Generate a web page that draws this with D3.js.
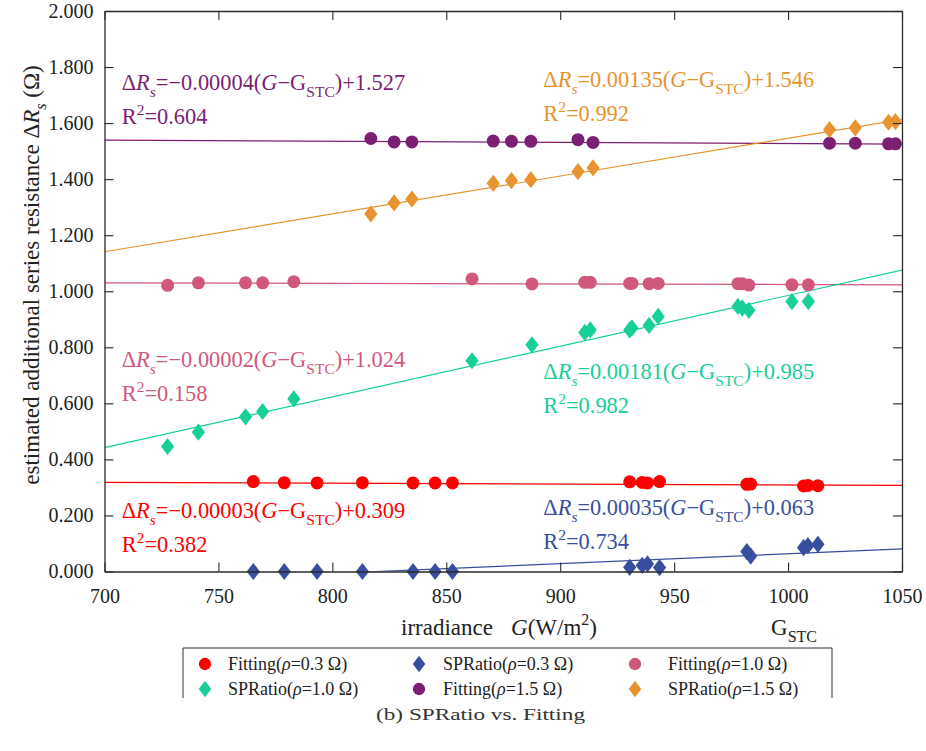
<!DOCTYPE html>
<html>
<head>
<meta charset="utf-8">
<script src="https://cdn.jsdelivr.net/npm/d3@7/dist/d3.min.js"></script>
<style>
  html, body { margin: 0; padding: 0; background: #fff; }
  svg { display: block; }
</style>
</head>
<body>
<svg id="chart" width="926" height="751"></svg>
<script>
// Irradiance G (W/m^2) at which each estimate was taken
const gRho03 = [765.3, 778.9, 793.3, 813.2, 835.4, 845.1, 852.7, 930.5, 936.0, 938.3, 943.6, 981.9, 983.6, 1006.8, 1008.7, 1013.1];
const gRho10 = [727.7, 741.2, 761.9, 769.4, 783.1, 861.3, 887.6, 910.8, 913.2, 930.5, 931.5, 939.0, 943.0, 978.0, 979.9, 982.8, 1001.7, 1008.9];
const gRho15 = [816.9, 827.1, 834.9, 870.6, 878.6, 887.1, 907.8, 914.4, 1018.2, 1029.5, 1044.1, 1047.1];

// Estimated additional series resistance ΔRs (Ω)
const fit03 = [0.321, 0.317, 0.316, 0.317, 0.316, 0.316, 0.316, 0.320, 0.318, 0.316, 0.321, 0.311, 0.312, 0.305, 0.307, 0.306];
const spr03 = [0.000, 0.000, 0.000, 0.000, 0.000, 0.000, 0.000, 0.015, 0.022, 0.027, 0.014, 0.071, 0.055, 0.085, 0.092, 0.097];
const fit10 = [1.021, 1.030, 1.030, 1.030, 1.034, 1.044, 1.026, 1.032, 1.032, 1.028, 1.028, 1.027, 1.028, 1.027, 1.027, 1.022, 1.023, 1.023];
const spr10 = [0.446, 0.497, 0.552, 0.571, 0.616, 0.752, 0.809, 0.853, 0.862, 0.862, 0.869, 0.878, 0.910, 0.946, 0.940, 0.932, 0.963, 0.963];
const fit15 = [1.545, 1.533, 1.533, 1.536, 1.535, 1.535, 1.541, 1.531, 1.528, 1.528, 1.526, 1.526];
const spr15 = [1.276, 1.315, 1.329, 1.385, 1.395, 1.398, 1.427, 1.440, 1.577, 1.583, 1.603, 1.605];

// Linear fits ΔRs = slope (G − G_STC) + intercept, with R²
const slopes     = [-0.00003, 0.00035, -0.00002, 0.00181, -0.00004, 0.00135];
const intercepts = [0.309, 0.063, 1.024, 0.985, 1.527, 1.546];
const rSquared   = ["0.382", "0.734", "0.158", "0.982", "0.604", "0.992"];

const seriesNames = ["Fitting", "SPRatio", "Fitting", "SPRatio", "Fitting", "SPRatio"];
const rhoLabels   = ["0.3", "0.3", "1.0", "1.0", "1.5", "1.5"];
const colors      = ["#ff0000", "#374f9e", "#d0587a", "#17cf98", "#7b1f72", "#e8942e"];
const shapes      = ["circle", "diamond", "circle", "diamond", "circle", "diamond"];

const xTicks = [700, 750, 800, 850, 900, 950, 1000, 1050];
const yTicks = [0, 0.2, 0.4, 0.6, 0.8, 1.0, 1.2, 1.4, 1.6, 1.8, 2.0];
const G_STC = 1000;

const SERIF = "'Liberation Serif', Tinos, 'Times New Roman', serif";

const series = [
  { g: gRho03, v: fit03 }, { g: gRho03, v: spr03 },
  { g: gRho10, v: fit10 }, { g: gRho10, v: spr10 },
  { g: gRho15, v: fit15 }, { g: gRho15, v: spr15 }
].map((s, i) => ({
  ...s, name: seriesNames[i], rho: rhoLabels[i], color: colors[i], shape: shapes[i],
  slope: slopes[i], intercept: intercepts[i], r2: rSquared[i]
}));

const svg = d3.select("#chart");
svg.append("rect").attr("width", 926).attr("height", 751).attr("fill", "#fff");

const plot = { left: 104.5, right: 902, top: 11, bottom: 571.5 };
const x = d3.scaleLinear().domain([700, 1050]).range([plot.left, plot.right]);
const y = d3.scaleLinear().domain([0, 2]).range([plot.bottom, plot.top]);

svg.append("defs").append("clipPath").attr("id", "plotClip")
  .append("rect")
  .attr("x", plot.left).attr("y", plot.top)
  .attr("width", plot.right - plot.left).attr("height", plot.bottom - plot.top);

// Fitted lines
const lineGen = d3.line().x(d => x(d[0])).y(d => y(d[1]));
const lines = svg.append("g").attr("clip-path", "url(#plotClip)");
series.forEach(s => {
  const ends = [700, 1050].map(g => [g, s.slope * (g - G_STC) + s.intercept]);
  lines.append("path").datum(ends)
    .attr("d", lineGen)
    .attr("fill", "none")
    .attr("stroke", s.color)
    .attr("stroke-width", 1.2);
});

// Markers
const circleR = 6.5, diamondW = 6.6, diamondH = 8.6;
function diamondPath(w, h) {
  return `M0,${-h}L${w},0L0,${h}L${-w},0Z`;
}
function drawMarker(g, shape, color, cx, cy, scale = 1) {
  if (shape === "circle") {
    g.append("circle").attr("cx", cx).attr("cy", cy).attr("r", circleR * scale).attr("fill", color);
  } else {
    g.append("path").attr("transform", `translate(${cx},${cy})`)
      .attr("d", diamondPath(diamondW * scale, diamondH * scale)).attr("fill", color);
  }
}
const markers = svg.append("g");
series.forEach(s => {
  s.g.forEach((g, i) => drawMarker(markers, s.shape, s.color, x(g), y(s.v[i])));
});

// Axes (ticks pointing inward on all four sides)
const axisColor = "#2a2a2a";
const tickLen = 9;
const xAxis = svg.append("g").attr("transform", `translate(0,${plot.bottom})`)
  .call(d3.axisBottom(x).tickValues(xTicks).tickSizeInner(-tickLen).tickSizeOuter(0).tickPadding(tickLen + 8).tickFormat(d3.format("d")));
const yAxis = svg.append("g").attr("transform", `translate(${plot.left},0)`)
  .call(d3.axisLeft(y).tickValues(yTicks).tickSizeInner(-tickLen).tickSizeOuter(0).tickPadding(20 - tickLen).tickFormat(d3.format(".3f")));
const xTop = svg.append("g").attr("transform", `translate(0,${plot.top})`)
  .call(d3.axisTop(x).tickValues(xTicks).tickSizeInner(-tickLen).tickSizeOuter(0).tickFormat(""));
const yRight = svg.append("g").attr("transform", `translate(${plot.right},0)`)
  .call(d3.axisRight(y).tickValues(yTicks).tickSizeInner(-tickLen).tickSizeOuter(0).tickFormat(""));
[xAxis, yAxis, xTop, yRight].forEach(a => {
  a.selectAll("path.domain").attr("stroke", axisColor).attr("stroke-width", 1.3);
  a.selectAll(".tick line").attr("stroke", axisColor).attr("stroke-width", 1.1);
  a.selectAll(".tick text").style("font-family", SERIF).style("font-size", "20px").attr("fill", "#222");
});

// Axis titles
const xTitle = svg.append("text").attr("y", 635)
  .style("font-family", SERIF).style("font-size", "23px").attr("fill", "#222");
xTitle.append("tspan").attr("x", 401).text("irradiance");
xTitle.append("tspan").attr("x", 511).attr("font-style", "italic").text("G");
xTitle.append("tspan").text("(W/m");
xTitle.append("tspan").style("font-size", "16px").attr("dy", -10).text("2");
xTitle.append("tspan").attr("dy", 10).text(")");

const gstc = svg.append("text").attr("x", 771).attr("y", 635)
  .style("font-family", SERIF).style("font-size", "23px").attr("fill", "#222");
gstc.append("tspan").text("G");
gstc.append("tspan").style("font-size", "16px").attr("dy", 7).text("STC");

const yTitle = svg.append("text")
  .attr("transform", `translate(39,275) rotate(-90)`)
  .attr("text-anchor", "middle")
  .style("font-family", SERIF).style("font-size", "23px").attr("fill", "#222");
yTitle.append("tspan").text("estimated additional series resistance Δ");
yTitle.append("tspan").attr("font-style", "italic").text("R");
yTitle.append("tspan").attr("font-style", "italic").style("font-size", "16px").attr("dy", 7).text("s");
yTitle.append("tspan").attr("dy", -7).text(" (Ω)");

// Fit equations
const annoPos = [[121.7, 518], [543.3, 515], [121.7, 367], [543.3, 379], [121.7, 90], [543.3, 87]];
series.forEach((s, i) => {
  const [ax, ay] = annoPos[i];
  const slopeTxt = (s.slope < 0 ? "−" : "") + Math.abs(s.slope).toFixed(5);
  const eq = svg.append("text").attr("x", ax).attr("y", ay)
    .style("font-family", SERIF).style("font-size", "22.4px").attr("fill", s.color);
  eq.append("tspan").text("Δ");
  eq.append("tspan").attr("font-style", "italic").text("R");
  eq.append("tspan").attr("font-style", "italic").style("font-size", "15.5px").attr("dy", 7).text("s");
  eq.append("tspan").attr("dy", -7).text("=" + slopeTxt + "(");
  eq.append("tspan").attr("font-style", "italic").text("G");
  eq.append("tspan").text("−G");
  eq.append("tspan").style("font-size", "15.5px").attr("dy", 7).text("STC");
  eq.append("tspan").attr("dy", -7).text(")+" + s.intercept.toFixed(3));

  const r2 = svg.append("text").attr("x", ax).attr("y", ay + 34)
    .style("font-family", SERIF).style("font-size", "22.4px").attr("fill", s.color);
  r2.append("tspan").text("R");
  r2.append("tspan").style("font-size", "15.5px").attr("dy", -9).text("2");
  r2.append("tspan").attr("dy", 9).text("=" + s.r2);
});

// Legend
const legend = svg.append("g");
const lgLeft = 183, lgRight = 832, lgTop = 648, lgBottom = 698;
legend.append("path")
  .attr("d", `M${lgLeft},${lgBottom}V${lgTop}H${lgRight}V${lgBottom}`)
  .attr("fill", "none").attr("stroke", "#333").attr("stroke-width", 1);
const colMarker = [205, 419, 635], colText = [228, 443, 668], rowY = [664, 689];
series.forEach((s, i) => {
  const r = Math.floor(i / 3), c = i % 3;
  drawMarker(legend, s.shape, s.color, colMarker[c], rowY[r], 0.95);
  const t = legend.append("text").attr("x", colText[c]).attr("y", rowY[r] + 6)
    .style("font-family", SERIF).style("font-size", "18px").attr("fill", "#222");
  t.append("tspan").text(s.name + "(");
  t.append("tspan").attr("font-style", "italic").text("ρ");
  t.append("tspan").text("=" + s.rho + " Ω)");
});

// Caption (wide roman face, stretched to the caption width)
svg.append("text").attr("x", 376).attr("y", 720)
  .attr("textLength", 209).attr("lengthAdjust", "spacingAndGlyphs")
  .style("font-family", SERIF).style("font-size", "16.5px").attr("fill", "#333")
  .text("(b) SPRatio vs. Fitting");
</script>
</body>
</html>
